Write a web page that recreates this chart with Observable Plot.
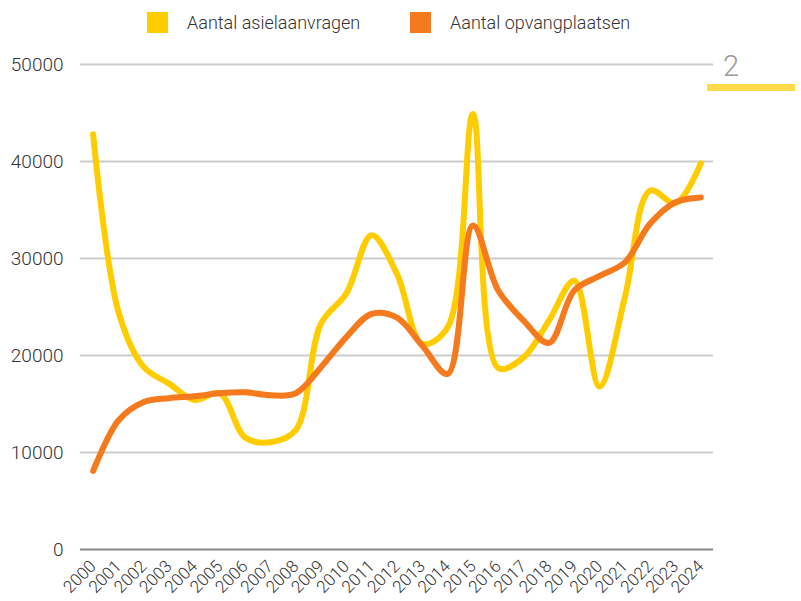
<!DOCTYPE html>
<html><head><meta charset="utf-8">
<script src="https://cdn.jsdelivr.net/npm/d3@7"></script>
<script src="https://cdn.jsdelivr.net/npm/@observablehq/plot@0.6"></script>
<style>
body{margin:0;background:#fff;font-family:Roboto, sans-serif;}
#wrap{position:relative;width:801px;height:601px;overflow:hidden}
#legend{height:45px;position:relative}
.item{position:absolute;top:12px;display:flex;align-items:center;font-size:18px;font-weight:300;color:#333;line-height:21px}
.sw{width:21px;height:21px;margin-right:19px}
#page{position:absolute;left:723px;top:49px;font-size:29px;color:#999;font-weight:300;line-height:34px}
#bar{position:absolute;left:707px;top:84px;width:88px;height:7px;background:#FFDA4A}
</style></head><body>
<div id="wrap"><div id="legend"></div><div id="chart"></div><div id="page">2</div><div id="bar"></div></div>
<script>
const years = ["2000","2001","2002","2003","2004","2005","2006","2007","2008","2009","2010","2011","2012","2013","2014","2015","2016","2017","2018","2019","2020","2021","2022","2023","2024"];
const asielaanvragen = [42800,24500,18800,17100,15400,16100,11550,11050,12300,23300,26400,32400,28400,21200,22900,44900,18700,19800,23600,27700,16800,26000,37000,35700,39800];
const opvangplaatsen = [8100,13300,15200,15600,15800,16100,16200,15900,16100,18800,21900,24300,23900,21000,18100,33400,26700,23600,21300,26700,28200,29600,33600,35800,36300];
const seriesNames = ["Aantal asielaanvragen","Aantal opvangplaatsen"];
const seriesColors = ["#FFCC00","#F57A1D"];
const yTicks = [0,10000,20000,30000,40000,50000];

const data = [];
years.forEach((y,i)=>data.push({year:y, value:asielaanvragen[i], series:seriesNames[0]}));
years.forEach((y,i)=>data.push({year:y, value:opvangplaatsen[i], series:seriesNames[1]}));

const legend = document.getElementById("legend");
const legendX = [147, 410];
seriesNames.forEach((n,i)=>{
  const it = document.createElement("div");
  it.className="item"; it.style.left = legendX[i]+"px";
  const sw = document.createElement("div"); sw.className="sw"; sw.style.background=seriesColors[i];
  const tx = document.createElement("span"); tx.textContent=n;
  it.appendChild(sw); it.appendChild(tx); legend.appendChild(it);
});

const chart = Plot.plot({
  width: 801, height: 556,
  marginLeft: 80, marginRight: 88, marginTop: 19, marginBottom: 52,
  x: {type:"point", domain: years, padding: 0.5, round:false, label:null},
  y: {domain:[0,50000], label:null},
  color: {domain: seriesNames, range: seriesColors},
  style: {fontFamily:"Roboto, sans-serif", fontSize:"18px", fontWeight:300, color:"#333", background:"#fff"},
  marks: [
    Plot.gridY(yTicks.filter(d=>d>0), {stroke:"#cccccc", strokeOpacity:1, strokeWidth:2}),
    Plot.ruleY([0], {stroke:"#888", strokeWidth:2}),
    Plot.lineY(data, {x:"year", y:"value", stroke:"series", strokeWidth:6, curve:"catmull-rom", strokeLinecap:"round", strokeLinejoin:"round"}),
    Plot.axisX({tickRotate:-45, tickSize:0, tickPadding:14, label:null, fill:"#333", fontSize:17}),
    Plot.axisY({ticks:yTicks, tickFormat:d=>String(d), tickSize:0, tickPadding:17, label:null, fill:"#333", fontSize:19})
  ]
});
document.getElementById("chart").appendChild(chart);
</script>
</body></html>
